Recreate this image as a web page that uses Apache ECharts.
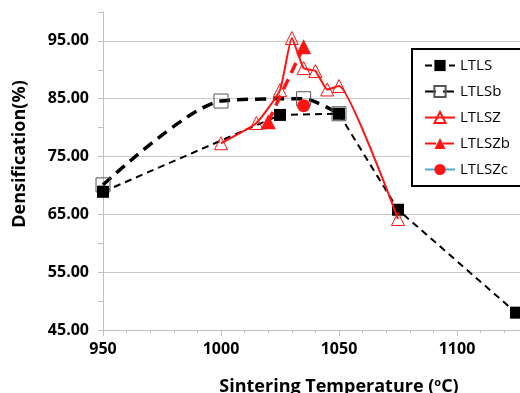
<!DOCTYPE html>
<html>
<head>
<meta charset="utf-8">
<script src="https://cdn.jsdelivr.net/npm/echarts@6/dist/echarts.min.js"></script>
<style>
  html, body { margin: 0; padding: 0; background: #fff; }
  #chart { width: 520px; height: 393px; }
</style>
</head>
<body>
<div id="chart"></div>
<script>
// [temperature, densification]
var ltls = [[950, 68.9], [1025, 82.2], [1050, 82.4], [1075, 65.8], [1125, 48.0]];
var ltlsb = [[950, 70.1], [1000, 84.6], [1035, 85.0], [1050, 82.4]];
var ltlsz = [[1000, 77.3], [1015, 80.8], [1025, 86.5], [1030, 95.5], [1035, 90.3],
             [1040, 89.8], [1045, 86.6], [1050, 87.2], [1075, 64.2]];
var ltlszb = [[1020, 81.0], [1035, 94.0]];
var ltlszc = [[1035, 83.8]];

var red = "#ff1414";
var chart = echarts.init(document.getElementById("chart"));

chart.setOption({
  animation: false,
  textStyle: { fontFamily: "Open Sans" },
  // plot runs past the right edge (to 1150), as in the cropped original
  grid: { left: 103, top: 12, width: 472, height: 318, outerBoundsMode: "none", containLabel: false },
  legend: {
    orient: "vertical",
    left: 412,
    top: 49,
    padding: [9, 30, 9, 12],
    itemGap: 11,
    itemWidth: 30,
    itemHeight: 14,
    borderColor: "#000",
    borderWidth: 2,
    borderRadius: 0,
    backgroundColor: "#fff",
    textStyle: { fontSize: 15, color: "#000", fontFamily: "Open Sans" },
    data: ["LTLS", "LTLSb", "LTLSZ", "LTLSZb", "LTLSZc"]
  },
  xAxis: {
    type: "value",
    min: 950,
    max: 1150,
    interval: 50,
    name: "Sintering Temperature ({s|o}C)",
    nameLocation: "middle",
    nameGap: 47,
    nameTextStyle: {
      fontSize: 18, fontWeight: "bold", color: "#000",
      rich: { s: { fontSize: 11, fontWeight: "bold", verticalAlign: "top", padding: [0, 0, 8, 0] } }
    },
    axisLine: { lineStyle: { color: "#bfbfbf", width: 1 } },
    axisTick: { show: true, length: 6, lineStyle: { color: "#bfbfbf" } },
    minorTick: { show: true, splitNumber: 5, length: 3, lineStyle: { color: "#bfbfbf" } },
    axisLabel: {
      fontSize: 16, fontWeight: "bold", color: "#000", margin: 11,
      formatter: function (v) { return String(v); }
    },
    splitLine: { show: false }
  },
  yAxis: {
    type: "value",
    min: 45,
    max: 100,
    interval: 10,
    name: "Densification(%)",
    nameLocation: "middle",
    nameGap: 74,
    nameTextStyle: { fontSize: 18, fontWeight: "bold", color: "#000", padding: [0, 0, 0, 34] },
    axisLine: { show: true, lineStyle: { color: "#bfbfbf", width: 1 } },
    axisTick: { show: true, length: 5, lineStyle: { color: "#bfbfbf" } },
    minorTick: { show: true, splitNumber: 2, length: 5, lineStyle: { color: "#bfbfbf" } },
    axisLabel: {
      fontSize: 16, fontWeight: "bold", color: "#000", margin: 14,
      formatter: function (v) { return v >= 100 ? "" : v.toFixed(2); }
    },
    splitLine: { show: true, showMaxLine: false, lineStyle: { color: "#c8c8c8", width: 1 } }
  },
  series: [
    {
      name: "LTLS", type: "line", data: ltls, z: 3,
      symbol: "rect", symbolSize: 12,
      lineStyle: { color: "#000", width: 2, type: [7, 5] },
      itemStyle: { color: "#000" }
    },
    {
      name: "LTLSb", type: "line", data: ltlsb, smooth: 0.25, z: 2,
      symbol: "rect", symbolSize: 14,
      lineStyle: { color: "#000", width: 3.5, type: [11, 7] },
      itemStyle: { color: "rgba(255,255,255,0)", borderColor: "#555", borderWidth: 1 }
    },
    {
      name: "LTLSZ", type: "line", data: ltlsz, smooth: 0.15, z: 4,
      symbol: "triangle", symbolSize: 13,
      lineStyle: { color: red, width: 2 },
      itemStyle: { color: "rgba(255,255,255,0)", borderColor: red, borderWidth: 1 }
    },
    {
      name: "LTLSZb", type: "line", data: ltlszb, z: 5,
      symbol: "triangle", symbolSize: 15,
      lineStyle: { color: red, width: 3.5, type: [11, 7] },
      itemStyle: { color: red }
    },
    {
      name: "LTLSZc", type: "line", data: ltlszc, z: 6,
      symbol: "circle", symbolSize: 13,
      lineStyle: { color: "#4bacc6", width: 2 },
      itemStyle: { color: red }
    }
  ]
});
</script>
</body>
</html>
